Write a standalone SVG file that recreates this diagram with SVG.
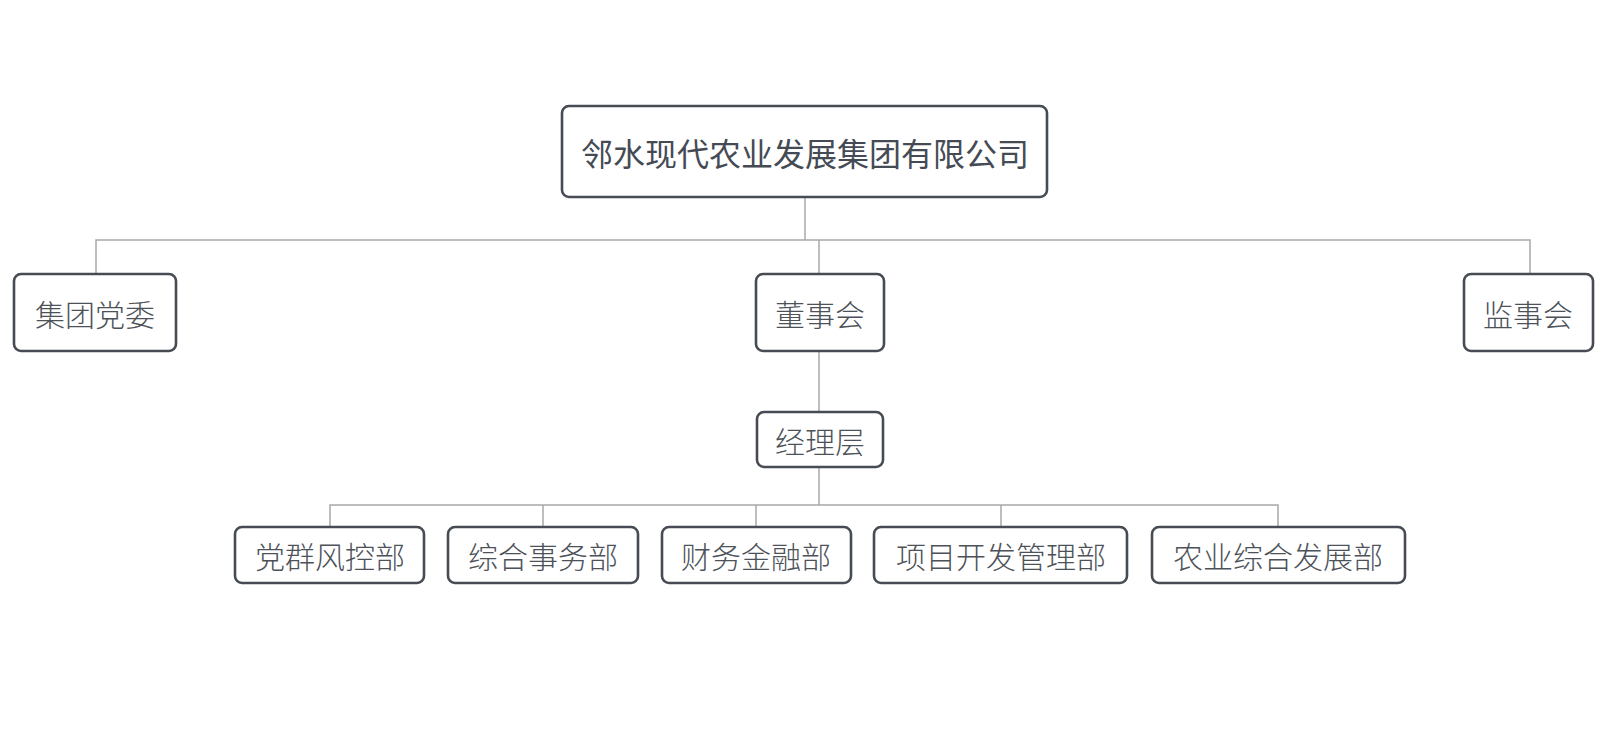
<svg xmlns="http://www.w3.org/2000/svg" width="1621" height="729" viewBox="0 0 1621 729">
<style>
.bg{fill:#ffffff}
.box{fill:#ffffff;stroke:#474c54;stroke-width:2.6}
.t{font-family:"Noto Sans CJK SC","Noto Sans",sans-serif;fill:#4d5259;text-anchor:middle;dominant-baseline:central;font-size:30px;font-weight:300}
.title{font-size:32px;fill:#454b54;font-weight:400}
.ln{fill:none;stroke:#a8a8a8;stroke-width:1.5}
</style>
<rect class="bg" x="0" y="0" width="1621" height="729"/>
<g id="connectors">
<path class="ln" d="M805 197V240"/>
<path class="ln" d="M96 274V240H1530V274"/>
<path class="ln" d="M819 240V274"/>
<path class="ln" d="M819 351V412"/>
<path class="ln" d="M819 467V505"/>
<path class="ln" d="M330 527V505H1278V527"/>
<path class="ln" d="M543 505V527"/>
<path class="ln" d="M756 505V527"/>
<path class="ln" d="M1001 505V527"/>
</g>
<g id="n-root">
<rect class="box" x="562" y="106" width="485" height="91" rx="7"/>
<text class="t title" x="805" y="152">邻水现代农业发展集团有限公司</text>
</g>
<g id="n-party">
<rect class="box" x="14" y="274" width="162" height="77" rx="7"/>
<text class="t" x="95" y="313">集团党委</text>
</g>
<g id="n-board">
<rect class="box" x="756" y="274" width="128" height="77" rx="7"/>
<text class="t" x="820" y="313">董事会</text>
</g>
<g id="n-supervisory">
<rect class="box" x="1464" y="274" width="129" height="77" rx="7"/>
<text class="t" x="1528" y="313">监事会</text>
</g>
<g id="n-manager">
<rect class="box" x="757" y="412" width="126" height="55" rx="7"/>
<text class="t" x="820" y="440">经理层</text>
</g>
<g id="n-d1">
<rect class="box" x="235" y="527" width="189" height="56" rx="7"/>
<text class="t" x="330" y="555">党群风控部</text>
</g>
<g id="n-d2">
<rect class="box" x="448" y="527" width="190" height="56" rx="7"/>
<text class="t" x="543" y="555">综合事务部</text>
</g>
<g id="n-d3">
<rect class="box" x="662" y="527" width="189" height="56" rx="7"/>
<text class="t" x="756" y="555">财务金融部</text>
</g>
<g id="n-d4">
<rect class="box" x="874" y="527" width="253" height="56" rx="7"/>
<text class="t" x="1001" y="555">项目开发管理部</text>
</g>
<g id="n-d5">
<rect class="box" x="1152" y="527" width="253" height="56" rx="7"/>
<text class="t" x="1278" y="555">农业综合发展部</text>
</g>
</svg>
